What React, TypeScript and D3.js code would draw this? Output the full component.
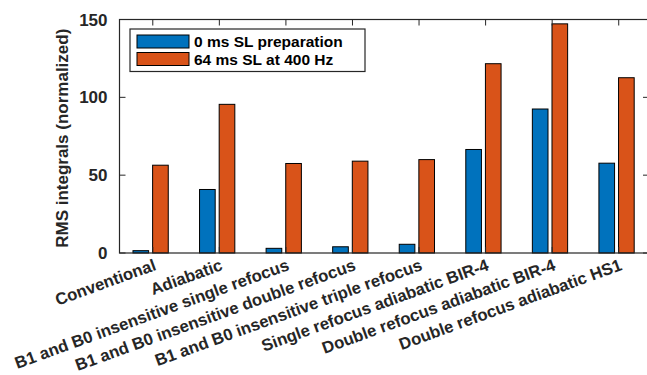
import * as d3 from 'd3';

// chart data
const categories = [
  'Conventional',
  'Adiabatic',
  'B1 and B0 insensitive single refocus',
  'B1 and B0 insensitive double refocus',
  'B1 and B0 insensitive triple refocus',
  'Single refocus adiabatic BIR-4',
  'Double refocus adiabatic BIR-4',
  'Double refocus adiabatic HS1',
];
const seriesNames = ['0 ms SL preparation', '64 ms SL at 400 Hz'];
const prepValues = [1.5, 40.8, 3, 4, 5.6, 66.5, 92.5, 57.7];
const slValues = [56.4, 95.5, 57.5, 59, 60, 121.6, 147.2, 112.6];
const yTicks = [0, 50, 100, 150];

const colors = ['#0072BD', '#D95319'];
const font = '"Liberation Sans", Arial, sans-serif';

const W = 647;
const H = 375;
const margin = { left: 119.5, top: 19.5, right: 652, bottom: 253 };

export default function App() {
  const x = d3.scaleLinear().domain([0.5, categories.length + 0.5]).range([margin.left, margin.right]);
  const y = d3.scaleLinear().domain([0, 150]).range([margin.bottom, margin.top]);

  // bar offsets in category units (grouped pair)
  const offsets = [-0.18, 0.115];
  const barW = x(0.235) - x(0);
  const series = [prepValues, slValues];
  const tickLen = 6;

  return (
    <div style={{ position: 'fixed', left: 0, top: 0 }}>
      <svg width={W} height={H} style={{ display: 'block', fontFamily: font }}>
        <rect width={W} height={H} fill="#fff" />

        {/* bars */}
        {series.map((vals, s) =>
          vals.map((v, i) => (
            <rect
              key={`${s}-${i}`}
              x={x(i + 1 + offsets[s]) - barW / 2}
              y={y(v)}
              width={barW}
              height={y(0) - y(v)}
              fill={colors[s]}
              stroke="#000"
              strokeWidth={1}
            />
          ))
        )}

        {/* frame */}
        <rect
          x={margin.left}
          y={margin.top}
          width={margin.right - margin.left}
          height={margin.bottom - margin.top}
          fill="none"
          stroke="#262626"
          strokeWidth={1.2}
        />

        {/* x ticks (top and bottom) */}
        {categories.map((c, i) => (
          <g key={c}>
            <line x1={x(i + 1)} x2={x(i + 1)} y1={margin.top} y2={margin.top + tickLen} stroke="#262626" />
            <line x1={x(i + 1)} x2={x(i + 1)} y1={margin.bottom} y2={margin.bottom - tickLen} stroke="#262626" />
          </g>
        ))}

        {/* y ticks (left and right) */}
        {yTicks.map((t) => (
          <g key={t}>
            <line x1={margin.left} x2={margin.left + tickLen} y1={y(t)} y2={y(t)} stroke="#262626" />
            <line x1={margin.right} x2={margin.right - tickLen - 3} y1={y(t)} y2={y(t)} stroke="#262626" />
            <text
              x={margin.left - 12}
              y={y(t)}
              dy="0.36em"
              textAnchor="end"
              fontSize={17}
              fontWeight="bold"
              fill="#262626"
            >
              {t}
            </text>
          </g>
        ))}

        {/* x tick labels */}
        {categories.map((c, i) => (
          <text
            key={c}
            transform={`translate(${x(i + 1)},${margin.bottom + 5}) rotate(-20)`}
            dy="0.74em"
            textAnchor="end"
            fontSize={16.7}
            fontWeight="bold"
            fill="#262626"
          >
            {c}
          </text>
        ))}

        {/* y label */}
        <text
          transform={`translate(68,${(margin.top + margin.bottom) / 2 + 2}) rotate(-90)`}
          textAnchor="middle"
          fontSize={17}
          fontWeight="bold"
          fill="#262626"
        >
          RMS integrals (normalized)
        </text>

        {/* legend */}
        <g>
          <rect x={130} y={29} width={235} height={42.5} fill="#fff" stroke="#262626" strokeWidth={1.2} />
          {seriesNames.map((n, s) => (
            <g key={n}>
              <rect x={137} y={35 + s * 17.5} width={52} height={13} fill={colors[s]} stroke="#000" strokeWidth={1} />
              <text x={194} y={41.5 + s * 17.5} dy="0.36em" fontSize={15.5} fontWeight="bold" fill="#000">
                {n}
              </text>
            </g>
          ))}
        </g>
      </svg>
    </div>
  );
}
